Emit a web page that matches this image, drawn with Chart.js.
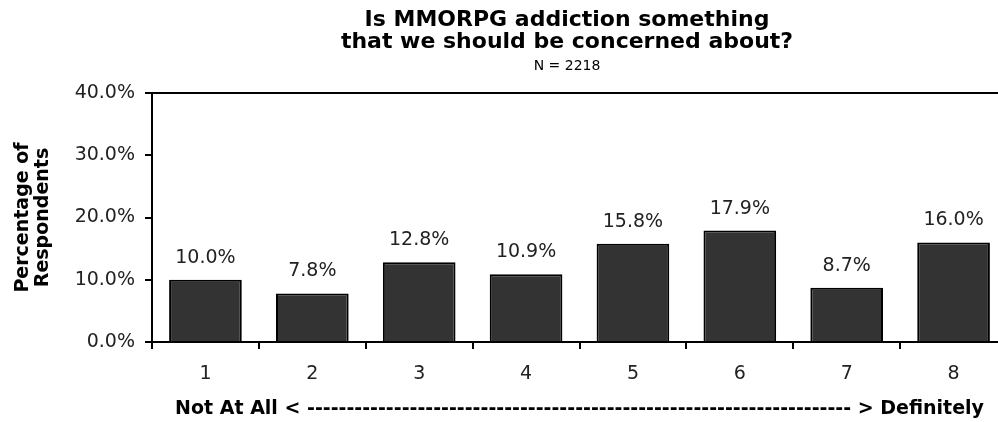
<!DOCTYPE html>
<html>
<head>
<meta charset="utf-8">
<script src="https://cdn.jsdelivr.net/npm/chart.js@4"></script>
<style>
  html, body { margin: 0; padding: 0; overflow: hidden; background: #fff; }
  #wrap { width: 1010px; height: 422px; }
</style>
</head>
<body>
<div id="wrap"><canvas id="mmoChart"></canvas></div>
<script>
let categories = ['1', '2', '3', '4', '5', '6', '7', '8'];
let percentages = [10.0, 7.8, 12.8, 10.9, 15.8, 17.9, 8.7, 16.0];
let yTicks = [0, 10, 20, 30, 40];
let titleLines = ['Is MMORPG addiction something', 'that we should be concerned about?'];
let subtitle = 'N = 2218';
let xTitle = 'Not At All < ' + '-'.repeat(69) + ' > Definitely';

let FONT = "'DejaVu Sans', Tahoma, Verdana, sans-serif";

// value labels above each bar
let barLabels = {
  id: 'barLabels',
  afterDatasetsDraw(chart) {
    let ctx = chart.ctx;
    let meta = chart.getDatasetMeta(0);
    ctx.save();
    ctx.font = '19px ' + FONT;
    ctx.fillStyle = '#222';
    ctx.textAlign = 'center';
    ctx.textBaseline = 'middle';
    meta.data.forEach((bar, i) => {
      ctx.fillText(percentages[i].toFixed(1) + '%', bar.x, bar.y - 22);
    });
    ctx.restore();
  }
};

// two-line bold heading plus the sample size
let heading = {
  id: 'heading',
  afterDraw(chart) {
    let ctx = chart.ctx;
    let cx = 567;
    ctx.save();
    ctx.fillStyle = '#000';
    ctx.textAlign = 'center';
    ctx.textBaseline = 'middle';
    ctx.font = 'bold 22px ' + FONT;
    ctx.fillText(titleLines[0], cx, 20);
    ctx.fillText(titleLines[1], cx, 42);
    ctx.font = '14px ' + FONT;
    ctx.fillText(subtitle, cx, 66);
    ctx.restore();
  }
};

let ctx = document.getElementById('mmoChart').getContext('2d');
let mmoChart = new Chart(ctx, {
  type: 'bar',
  data: {
    labels: categories,
    datasets: [{
      data: percentages,
      backgroundColor: '#333333',
      borderColor: '#000',
      borderWidth: 2,
      borderSkipped: 'bottom',
      categoryPercentage: 1.0,
      barPercentage: 0.68
    }]
  },
  options: {
    responsive: true,
    maintainAspectRatio: false,
    animation: false,
    layout: { padding: { top: 93, right: 3, left: 0, bottom: 0 } },
    plugins: {
      legend: { display: false },
      tooltip: { enabled: false },
      title: { display: false }
    },
    scales: {
      x: {
        afterFit(scale) { scale.height = 80; },
        grid: {
          offset: true,
          drawOnChartArea: false,
          tickLength: 7,
          tickColor: '#000',
          lineWidth: 2
        },
        border: { color: '#000', width: 2 },
        ticks: {
          color: '#222',
          font: { family: FONT, size: 19 },
          padding: 14
        },
        title: {
          display: true,
          text: xTitle,
          color: '#000',
          font: { family: FONT, size: 19, weight: 'bold' },
          padding: { top: 4, bottom: 2 }
        }
      },
      y: {
        min: 0,
        max: 40,
        afterFit(scale) { scale.width = 152; },
        afterBuildTicks(scale) { scale.ticks = yTicks.map(v => ({ value: v })); },
        grid: {
          color: c => (c.tick && c.tick.value === 40) ? '#000' : 'rgba(0,0,0,0)',
          tickColor: '#000',
          tickLength: 7,
          lineWidth: 2
        },
        border: { color: '#000', width: 2 },
        ticks: {
          color: '#222',
          font: { family: FONT, size: 19 },
          padding: 10,
          callback: v => v.toFixed(1) + '%'
        },
        title: {
          display: true,
          text: ['Percentage of', 'Respondents'],
          color: '#000',
          font: { family: FONT, size: 19, weight: 'bold', lineHeight: 1.05 },
          padding: { top: 13, bottom: 0 }
        }
      }
    }
  },
  plugins: [barLabels, heading]
});
</script>
</body>
</html>
